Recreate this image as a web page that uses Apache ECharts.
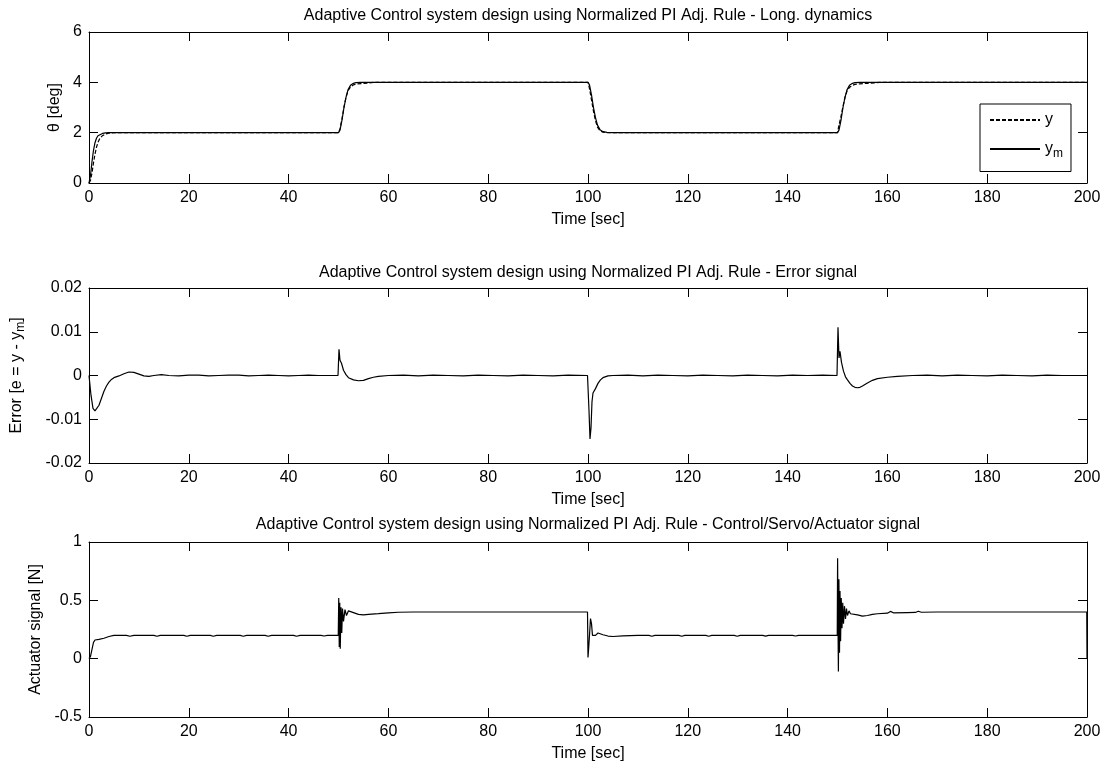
<!DOCTYPE html>
<html>
<head>
<meta charset="utf-8">
<script src="https://cdn.jsdelivr.net/npm/echarts@6/dist/echarts.min.js"></script>
<style>
html, body { margin: 0; padding: 0; background: #fff; }
#main { width: 1108px; height: 764px; }
</style>
</head>
<body>
<div id="main"></div>
<script>
/* pitch angle theta: model output ym (solid) and plant output y (dashed) */
var thetaTime = [0, 0.3, 0.6, 0.9, 1.2, 1.5, 1.8, 2.2, 2.7, 3.3, 4, 5, 50,
	50.3, 50.7, 51.1, 51.5, 51.9, 52.4, 53, 53.5, 54.5, 56, 57, 100,
	100.3, 100.7, 101.1, 101.5, 101.9, 102.4, 103, 103.8, 105, 150,
	150.3, 150.7, 151.1, 151.5, 151.9, 152.4, 153, 153.5, 154.5, 156, 157.5, 158.5, 200];
var thetaYm = [0, 0.3, 0.85, 1.3, 1.6, 1.78, 1.88, 1.94, 1.97, 1.99, 2, 2, 2,
	2.1, 2.5, 3.0, 3.4, 3.7, 3.88, 3.96, 3.99, 4, 4, 4, 4,
	3.9, 3.5, 3.0, 2.6, 2.3, 2.12, 2.04, 2.01, 2, 2,
	2.1, 2.5, 3.0, 3.4, 3.7, 3.88, 3.96, 3.99, 4, 4, 4, 4, 4];
var thetaY = [0, 0.1, 0.4, 0.8, 1.15, 1.42, 1.62, 1.78, 1.88, 1.95, 1.98, 2, 2,
	2.15, 2.55, 3.02, 3.4, 3.66, 3.82, 3.9, 3.93, 3.95, 3.97, 4, 4,
	3.75, 3.3, 2.85, 2.48, 2.22, 2.08, 2.02, 2.0, 2, 2,
	2.3, 2.65, 3.05, 3.4, 3.65, 3.8, 3.88, 3.92, 3.94, 3.96, 3.98, 4, 4];

/* error signal e = y - ym */
var errTime = [0, 0.4, 0.8, 1.2, 1.6, 2, 2.5, 3, 3.5, 4, 4.5, 5, 6, 7, 8, 9, 10, 11, 12, 13, 14.5,
	16, 18, 20, 22, 24, 26, 28, 30, 32, 34, 36, 38, 40, 42, 44, 46, 48, 49.9,
	50.1, 50.3, 50.6, 51, 51.5, 52, 53, 54, 55, 56, 57, 58, 60, 63, 66, 69, 72, 75, 78, 81, 84,
	87, 90, 93, 96, 99.9,
	100.2, 100.4, 100.6, 100.8, 101, 101.5, 102, 102.5, 103, 104, 105, 108, 111, 114, 117, 120,
	123, 126, 129, 132, 135, 138, 141, 144, 147, 149.9,
	150.1, 150.3, 150.5, 150.8, 151.2, 151.6, 152, 152.5, 153, 153.5, 154, 154.5, 155, 156, 157,
	158, 160, 162, 165, 168, 171, 174, 177, 180, 183, 186, 189, 192, 195, 198, 200];
var errValue = [0, -0.0045, -0.0075, -0.0081, -0.0078, -0.0068, -0.0052, -0.0036, -0.0024, -0.0015,
	-0.0009, -0.0005, -0.0001, 0.0004, 0.0008, 0.0007, 0.0003, -0.0001, -0.0002, 0, 0.0002,
	0, -0.0001, 0.0001, 0.0001, -0.0001, 0, 0.0001, 0.0001, -0.0001, 0, 0.0001, 0, -0.0001, 0,
	0.0001, 0, 0, 0,
	0.006, 0.0035, 0.0028, 0.0012, 0.0002, -0.0005, -0.001, -0.0012, -0.0011, -0.0007, -0.0004,
	-0.0002, 0, 0.0001, -0.0001, 0.0001, 0, -0.0001, 0.0001, 0, -0.0001,
	0.0001, 0, -0.0001, 0.0001, 0,
	-0.008, -0.0145, -0.012, -0.006, -0.004, -0.003, -0.0018, -0.001, -0.0005, -0.0001, 0, 0.0001,
	-0.0001, 0.0001, 0, -0.0001,
	0.0001, 0, -0.0001, 0.0001, 0, -0.0001, 0.0001, 0, 0.0001, 0,
	0.011, 0.004, 0.0055, 0.003, 0.001, -0.0003, -0.001, -0.0018, -0.0024, -0.0027, -0.0028,
	-0.0027, -0.0024, -0.0017, -0.0011,
	-0.0007, -0.0004, -0.0002, 0, 0.0001, -0.0001, 0.0001, 0, -0.0001, 0.0001, 0, -0.0001, 0.0001, 0, 0, 0];

/* actuator (control) signal */
var actTime = [0, 0.3, 0.6, 0.9, 1.2, 2, 3, 4, 5, 7.5, 8.2, 9, 13, 13.6, 14.3, 19, 19.6, 20.3,
	24.3, 24.9, 25.6, 30.3, 30.9, 31.6, 35.3, 35.9, 36.6, 41, 41.6, 42.3, 46.5, 47.1, 47.8, 49.95,
	50.05, 50.15, 50.25, 50.35, 50.5, 50.65, 50.8, 51, 51.3, 51.6, 52, 53, 54, 55, 56, 58, 60, 62, 65, 99.9,
	100, 100.15, 100.3, 100.5, 100.7, 100.9, 101.2, 101.5, 102, 103, 104, 105, 107, 110,
	112.2, 112.8, 113.4, 118.2, 118.8, 119.4, 123.6, 124.2, 124.8, 129.3, 129.9, 130.5, 135, 135.6, 136.2,
	141, 141.6, 142.2, 149.95,
	150.02, 150.1, 150.18, 150.28, 150.4, 150.5, 150.62, 150.75, 150.9, 151.05, 151.2, 151.4, 151.6,
	151.8, 152, 152.3, 152.6, 153, 154, 155, 156, 157, 158, 160, 160.6, 161.2, 164, 165.6, 166.2, 166.8,
	170, 199.95, 200];
var actValue = [0, 0.02, 0.08, 0.14, 0.16, 0.165, 0.175, 0.19, 0.2, 0.2, 0.192, 0.2, 0.2, 0.192, 0.2,
	0.2, 0.192, 0.2, 0.2, 0.192, 0.2, 0.2, 0.192, 0.2, 0.2, 0.192, 0.2, 0.2, 0.192, 0.2, 0.2, 0.194, 0.2, 0.2,
	0.52, 0.1, 0.48, 0.086, 0.44, 0.22, 0.43, 0.32, 0.42, 0.37, 0.41, 0.395, 0.38, 0.375, 0.38, 0.386, 0.393, 0.398, 0.4, 0.4,
	0.01, 0.1, 0.2, 0.343, 0.3, 0.2, 0.185, 0.2, 0.22, 0.205, 0.194, 0.19, 0.195, 0.2,
	0.2, 0.192, 0.2, 0.2, 0.192, 0.2, 0.2, 0.192, 0.2, 0.2, 0.192, 0.2, 0.2, 0.193, 0.2,
	0.2, 0.194, 0.2, 0.2,
	0.86, 0.3, -0.11, 0.68, 0.05, 0.58, 0.15, 0.52, 0.26, 0.48, 0.3, 0.45, 0.34,
	0.43, 0.37, 0.41, 0.385, 0.395, 0.375, 0.365, 0.37, 0.38, 0.385, 0.39, 0.405, 0.393, 0.395, 0.396, 0.406, 0.398,
	0.4, 0.4, 0];

var FONT = '"Liberation Sans", Arial, Helvetica, sans-serif';
var FS = 16;

var titles = [
	'Adaptive Control system design using Normalized PI Adj. Rule - Long. dynamics',
	'Adaptive Control system design using Normalized PI Adj. Rule - Error signal',
	'Adaptive Control system design using Normalized PI Adj. Rule - Control/Servo/Actuator signal'
];
var titleGaps = [8, 7, 9];

var grids = [
	{ left: 89, top: 32, width: 998, height: 151 },
	{ left: 89, top: 288, width: 998, height: 175 },
	{ left: 89, top: 542, width: 998, height: 175 }
];

var yRanges = [
	{ min: 0, max: 6, interval: 2, name: 'θ [deg]', gap: 22 },
	{ min: -0.02, max: 0.02, interval: 0.01, name: 'Error [e = y - y{sub|m}]', gap: 62 },
	{ min: -0.5, max: 1, interval: 0.5, name: 'Actuator signal [N]', gap: 44 }
];

function pairs(xs, ys) {
	return xs.map(function (x, i) { return [x, ys[i]]; });
}

var black = '#000';
var subRich = { sub: { fontSize: 12, fontFamily: FONT, color: black, verticalAlign: 'bottom', padding: [9, 0, 0, 0] } };

function tick() {
	return { show: true, inside: true, length: 9, lineStyle: { color: black, width: 1 } };
}

var xAxes = [], yAxes = [];
for (var i = 0; i < 3; i++) {
	xAxes.push({
		type: 'value', gridIndex: i, position: 'bottom', min: 0, max: 200, interval: 20,
		name: 'Time [sec]', nameLocation: 'middle', nameGap: 29,
		nameTextStyle: { fontFamily: FONT, fontSize: FS, color: black },
		axisLine: { show: true, onZero: false, lineStyle: { color: black, width: 1 } },
		axisTick: tick(),
		axisLabel: { margin: 7, fontFamily: FONT, fontSize: FS, color: black },
		splitLine: { show: false }
	});
	xAxes.push({
		type: 'value', gridIndex: i, position: 'top', min: 0, max: 200, interval: 20,
		name: titles[i], nameLocation: 'middle', nameGap: titleGaps[i],
		nameTextStyle: { fontFamily: FONT, fontSize: FS, color: black },
		axisLine: { show: true, onZero: false, lineStyle: { color: black, width: 1 } },
		axisTick: tick(),
		axisLabel: { show: false },
		splitLine: { show: false }
	});
	yAxes.push({
		type: 'value', gridIndex: i, position: 'left',
		min: yRanges[i].min, max: yRanges[i].max, interval: yRanges[i].interval,
		name: yRanges[i].name, nameLocation: 'middle', nameRotate: 90, nameGap: yRanges[i].gap,
		nameTextStyle: { fontFamily: FONT, fontSize: FS, color: black, rich: subRich },
		axisLine: { show: true, onZero: false, lineStyle: { color: black, width: 1 } },
		axisTick: tick(),
		axisLabel: { margin: 7, fontFamily: FONT, fontSize: FS, color: black },
		splitLine: { show: false }
	});
	yAxes.push({
		type: 'value', gridIndex: i, position: 'right',
		min: yRanges[i].min, max: yRanges[i].max, interval: yRanges[i].interval,
		axisLine: { show: true, onZero: false, lineStyle: { color: black, width: 1 } },
		axisTick: tick(),
		axisLabel: { show: false },
		splitLine: { show: false }
	});
}

function lineSeries(name, data, xi, yi, dashed) {
	return {
		name: name, type: 'line', data: data,
		xAxisIndex: xi, yAxisIndex: yi,
		symbol: 'none', showSymbol: false, smooth: false,
		lineStyle: { color: black, width: 1.2, type: dashed ? [4, 2] : 'solid' },
		itemStyle: { color: black },
		silent: true
	};
}

var chart = echarts.init(document.getElementById('main'), null, { renderer: 'canvas' });
chart.setOption({
	animation: false,
	backgroundColor: '#fff',
	grid: grids,
	xAxis: xAxes,
	yAxis: yAxes,
	legend: {
		data: ['y', 'ym'],
		orient: 'vertical',
		left: 980, top: 104,
		itemWidth: 50, itemHeight: 14, itemGap: 13,
		padding: [8, 8, 12, 9],
		backgroundColor: '#fff',
		borderColor: black, borderWidth: 1,
		selectedMode: false,
		// hide the round marker that line series put in the legend icon
		itemStyle: { color: 'rgba(0,0,0,0)', borderWidth: 0, opacity: 0 },
		lineStyle: { inherit: true },
		formatter: function (name) { return name === 'ym' ? 'y{sub|m}' : name; },
		textStyle: { fontFamily: FONT, fontSize: FS, color: black, rich: subRich }
	},
	series: [
		lineSeries('y', pairs(thetaTime, thetaY), 0, 0, true),
		lineSeries('ym', pairs(thetaTime, thetaYm), 0, 0, false),
		lineSeries('e', pairs(errTime, errValue), 2, 2, false),
		lineSeries('u', pairs(actTime, actValue), 4, 4, false)
	]
});
</script>
</body>
</html>
